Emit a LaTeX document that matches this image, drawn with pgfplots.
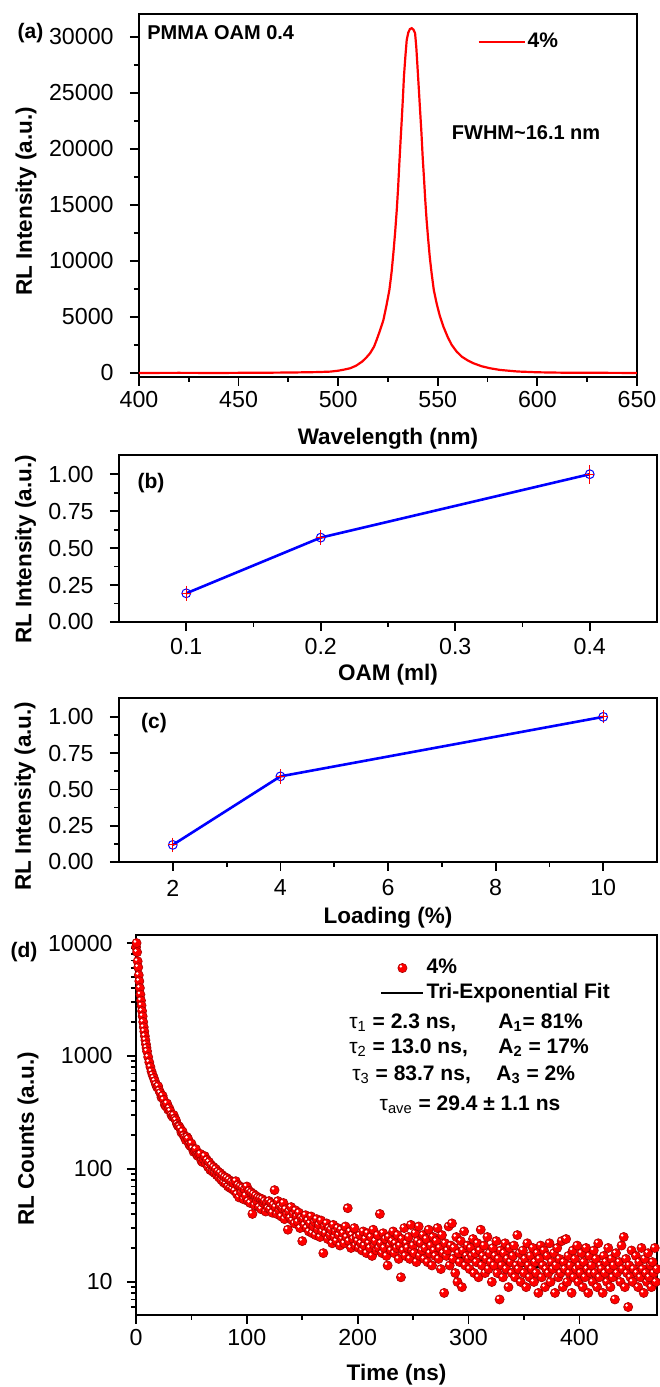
\documentclass[border=0pt]{standalone}
\usepackage{fontspec}
\setmainfont{Liberation Sans}
\usepackage{pgfplots}
\pgfplotsset{compat=1.18}

\newcommand{\myTF}{\fontsize{11.6}{14}\selectfont}
\newcommand{\myLF}{\bfseries\fontsize{11.25}{13}\selectfont}
\newcommand{\myAF}{\bfseries\fontsize{10.5}{12}\selectfont}

\pgfdeclareplotmark{rball}{%
  \pgfpathcircle{\pgfpointorigin}{\pgfplotmarksize}%
  \pgfsetfillcolor{red}\pgfsetstrokecolor{red!65!black}\pgfsetlinewidth{0.3pt}%
  \pgfusepath{fill,stroke}%
  \pgfpathcircle{\pgfpoint{-0.35\pgfplotmarksize}{0.35\pgfplotmarksize}}{0.3\pgfplotmarksize}%
  \pgfsetfillcolor{white}\pgfusepath{fill}}

\pgfplotsset{
 myaxis/.style={
  scale only axis, anchor=south west,
  axis line style={line width=1pt},
  tick pos=left, tick align=outside,
  major tick length=4.5pt, minor tick length=2.5pt,
  every tick/.style={black, line width=0.9pt},
  scaled x ticks=false, scaled y ticks=false,
  /pgf/number format/assume math mode=true,
 },
 balllegend/.style={legend image code/.code={\path[draw=none] (0pt,0pt) -- (21pt,0pt);
    \pgftransformshift{\pgfpoint{10.5pt}{0pt}}\pgfsetplotmarksize{2.3pt}\pgfuseplotmark{rball}}},
 linelegend/.style={legend image code/.code={\draw[##1] (0pt,0pt) -- (21pt,0pt);}},
 linelegendA/.style={legend image code/.code={\draw[##1] (0pt,0pt) -- (23pt,0pt);}},
}

\begin{document}
\begin{tikzpicture}
\path[use as bounding box] (0pt,0pt) rectangle (329.5pt,693.5pt);

% ---------------- (a)
\begin{axis}[myaxis, at={(69.5pt,505pt)}, width=249pt, height=181.5pt,
  xmin=400, xmax=650, ymin=-360, ymax=32050,
  xtick={400,450,500,550,600,650},
  xticklabels={\myTF 400,\myTF 450,\myTF 500,\myTF 550,\myTF 600,\myTF 650},
  ytick={0,5000,10000,15000,20000,25000,30000},
  yticklabels={\myTF 0,\myTF 5000,\myTF 10000,\myTF 15000,\myTF 20000,\myTF 25000,\myTF 30000},
  minor x tick num=1, minor y tick num=1,
  xticklabel style={inner sep=0pt, anchor=center, yshift=-7pt},
  yticklabel style={inner sep=0pt, anchor=east, xshift=-8pt},
  xlabel={Wavelength (nm)}, ylabel={RL Intensity (a.u.)},
  every axis x label/.style={font=\myLF, at={(axis description cs:0.5,0)}, anchor=center, yshift=-31pt},
  every axis y label/.style={font=\myLF, at={(axis description cs:0,0.5)}, xshift=-56.5pt, yshift=-3pt, rotate=90, anchor=center},
  legend style={draw=none, fill=none, inner sep=0pt, at={(axis description cs:0.679,0.923)}, anchor=west,
    font=\myAF, nodes={inner sep=1pt}},
  ]
\addplot[red, line width=1.1pt, linelegendA] coordinates {
(400,0)(420,10)(440,0)(460,20)(470,30)(480,50)(490,80)(496,120)(500,200)(503,300)(506,420)(509,650)
(512,1010)(514,1350)(516,1760)(518,2350)(519.3,2950)(521,3800)(522.7,4730)(524.2,6000)(525.7,7410)
(526.8,9000)(527.7,10690)(528.6,12600)(529.4,14550)(530.1,16600)(530.7,18720)(531.3,20700)(531.9,22590)
(532.5,24600)(533.0,26460)(533.7,28200)(534.4,29730)(535.2,30400)(536,30700)(536.9,30780)(537.8,30650)
(538.6,30330)(539.2,29100)(539.7,27650)(540.4,25600)(541.1,23480)(541.8,21400)(542.4,19310)(543.1,17300)
(543.7,15450)(544.4,13600)(545.2,11880)(546,10300)(546.9,8900)(548,7400)(549.4,6220)(551,5100)
(552.8,4140)(555,3200)(557,2500)(559.5,1900)(562,1460)(565,1120)(567.8,870)(572,600)(576.2,420)
(581.2,270)(590,130)(600,60)(610,30)(620,15)(635,10)(650,0)};
\addlegendentry{4\%}
\end{axis}

% ---------------- (b)
\begin{axis}[myaxis, at={(59.5pt,382.5pt)}, width=269pt, height=83.5pt,
  xmin=0.05, xmax=0.45, ymin=0, ymax=1.13,
  xtick={0.1,0.2,0.3,0.4}, xticklabels={\myTF 0.1,\myTF 0.2,\myTF 0.3,\myTF 0.4},
  ytick={0,0.25,0.5,0.75,1}, yticklabels={\myTF 0.00,\myTF 0.25,\myTF 0.50,\myTF 0.75,\myTF 1.00},
  minor x tick num=1, minor y tick num=1,
  xticklabel style={inner sep=0pt, anchor=center, yshift=-8pt},
  yticklabel style={inner sep=0pt, anchor=east, xshift=-8pt},
  xlabel={OAM (ml)}, ylabel={RL Intensity (a.u.)},
  every axis x label/.style={font=\myLF, at={(axis description cs:0.5,0)}, anchor=center, yshift=-26.5pt},
  every axis y label/.style={font=\myLF, at={(axis description cs:0,0.5)}, xshift=-46.75pt, yshift=-5.5pt, rotate=90, anchor=center},
  ]
\addplot[blue, line width=1.3pt, mark=o, mark size=2.2pt, mark options={blue, line width=0.5pt, solid}]
  coordinates {(0.1,0.194)(0.2,0.571)(0.4,1.0)};
\addplot[only marks, red, mark=+, mark size=2.2pt, mark options={line width=0.6pt},
  error bars/.cd, y dir=both, y explicit, error bar style={red, line width=0.6pt},
  error mark=-, error mark options={red, line width=0.6pt, mark size=2.2pt}]
  coordinates {(0.1,0.194) +- (0,0.02) (0.2,0.571) +- (0,0.02) (0.4,1.0) +- (0,0.034)};
\end{axis}

% ---------------- (c)
\begin{axis}[myaxis, at={(59.5pt,262.5pt)}, width=269pt, height=82pt,
  xmin=1, xmax=11, ymin=0, ymax=1.13,
  xtick={2,4,6,8,10}, xticklabels={\myTF 2,\myTF 4,\myTF 6,\myTF 8,\myTF 10},
  ytick={0,0.25,0.5,0.75,1}, yticklabels={\myTF 0.00,\myTF 0.25,\myTF 0.50,\myTF 0.75,\myTF 1.00},
  minor x tick num=1, minor y tick num=1,
  xticklabel style={inner sep=0pt, anchor=center, yshift=-8.5pt},
  yticklabel style={inner sep=0pt, anchor=east, xshift=-8pt},
  xlabel={Loading (\%)}, ylabel={RL Intensity (a.u.)},
  every axis x label/.style={font=\myLF, at={(axis description cs:0.5,0)}, anchor=center, yshift=-28pt},
  every axis y label/.style={font=\myLF, at={(axis description cs:0,0.5)}, xshift=-47pt, yshift=-8pt, rotate=90, anchor=center},
  ]
\addplot[blue, line width=1.3pt, mark=o, mark size=2.2pt, mark options={blue, line width=0.5pt, solid}]
  coordinates {(2,0.118)(4,0.59)(10,1.0)};
\addplot[only marks, red, mark=+, mark size=2.2pt, mark options={line width=0.6pt},
  error bars/.cd, y dir=both, y explicit, error bar style={red, line width=0.6pt},
  error mark=-, error mark options={red, line width=0.6pt, mark size=2.2pt}]
  coordinates {(2,0.118) +- (0,0.02) (4,0.59) +- (0,0.02) (10,1.0) +- (0,0.015)};
\end{axis}

% ---------------- (d)
\begin{axis}[myaxis, at={(68pt,36pt)}, width=260.5pt, height=190pt,
  ymode=log, xmin=0, xmax=470, ymin=5.1, ymax=11780,
  xtick={0,100,200,300,400}, xticklabels={\myTF 0,\myTF 100,\myTF 200,\myTF 300,\myTF 400},
  ytick={10,100,1000,10000}, yticklabels={\myTF 10,\myTF 100,\myTF 1000,\myTF 10000},
  minor ytick={6,7,8,9,20,30,40,50,60,70,80,90,200,300,400,500,600,700,800,900,2000,3000,4000,5000,6000,7000,8000,9000},
  minor x tick num=1,
  xticklabel style={inner sep=0pt, anchor=center, yshift=-7pt},
  yticklabel style={inner sep=0pt, anchor=east, xshift=-7pt},
  xlabel={Time (ns)}, ylabel={RL Counts (a.u.)},
  every axis x label/.style={font=\myLF, at={(axis description cs:0.5,0)}, anchor=center, yshift=-30pt},
  every axis y label/.style={font=\myLF, at={(axis description cs:0,0.5)}, xshift=-54pt, yshift=-7pt, rotate=90, anchor=center},
  legend style={draw=none, fill=none, inner sep=0pt, at={(axis description cs:0.468,0.947)}, anchor=north west,
    font=\myAF, row sep=0pt, nodes={inner sep=1pt, text height=8pt, text depth=2.5pt}},
  legend cell align=left,
  ]
\addplot[only marks, mark=rball, mark size=2.3pt, balllegend]
  coordinates {
(0,9200)(0.5,10000)(1,8300)(1.5,6900)(2,6100)(2.5,5200)(3,4600)(3.5,4000)(4,3500)(4.5,3100)
(5,2800)(5.5,2500)(6,2250)(6.5,2000)(7,1800)(7.5,1650)(8,1500)(8.5,1380)(9,1270)(9.5,1180)
(10,1100)(11,980)(12,880)(13,800)(14,730)(15,680)(16,640)(17,600)(18,560)(19,530)
(20,540)(21,495)(22,470)(23,430)(24,445)(25,410)(26,370)(27,360)(28,380)(29,335)
(30,345)(31,325)(32,300)(33,290)(34,300)(35,280)(36,270)(37,250)(38,240)(39,238)
(40,228)(41,210)(42,215)(43,198)(44,190)(45,180)(46,192)(47,185)(48,165)(49,160)
(50,168)(51,152)(52,142)(53,146)(54,150)(55,133)(56,130)(57,134)(58,136)(59,118)
(60,115)(61,122)(62,130)(63,112)(64,120)(65,104)(66,115)(67,98)(68,108)(69,95)
(70,104)(71,92)(72,100)(73,88)(74,95)(75,84)(76,92)(77,80)(78,88)(79,76)
(80,85)(81,74)(82,83)(83,70)(84,80)(85,68)(86,77)(87,66)(88,75)(89,64)
(90,78)(91,60)(92,72)(93,56)(94,70)(95,62)(96,68)(97,54)(98,66)(99,58)
(100,70)(101,52)(102,64)(103,50)(104,62)(105,40)(106,60)(107,48)(108,58)(109,52)
(110,56)(111,46)(112,55)(113,44)(114,54)(115,50)(116,52)(117,42)(118,50)(119,45)(120,52)
(121,44)(122,50)(123,41)(124,48)(125,65)(126,46)(127,40)(128,52)(129,43)(130,47)
(131,38)(132,45)(133,50)(134,36)(135,44)(136,40)(137,29)(138,42)(139,37)(140,46)
(141,35)(142,40)(143,33)(144,43)(145,38)(146,34)(147,41)(148,30)(149,37)(150,23)
(151,36)(152,32)(153,39)(154,30)(155,35)(156,28)(157,33)(158,38)(159,27)(160,31)
(161,34)(162,26)(163,36)(164,29)(165,32)(166,25)(167,35)(168,28)(169,18)(170,31)
(171,27)(172,33)(173,24)(174,30)(175,26)(176,29)(177,22)(178,32)(179,25)(180,28)
(181,23)(182,30)(183,26)(184,21)(185,29)(186,24)(187,27)(188,22)(189,31)(190,25)
(191,45)(192,23)(193,28)(194,20)(195,26)(196,24)(197,30)(198,21)(199,25)(200,23)
(201,20)(202,26)(203,22)(204,19)(205,28)(206,21)(207,24)(208,18)(209,27)(210,22)
(211,20)(212,25)(213,17)(214,29)(215,21)(216,23)(217,19)(218,26)(219,20)(220,40)
(221,22)(222,18)(223,27)(224,20)(225,24)(226,17)(227,14)(228,25)(229,21)(230,19)
(231,23)(232,28)(233,18)(234,22)(235,20)(236,26)(237,16)(238,21)(239,11)(240,24)
(241,19)(242,30)(243,17)(244,22)(245,20)(246,25)(247,16)(248,32)(249,19)(250,21)
(251,18)(252,27)(253,15)(254,23)(255,31)(256,17)(257,22)(258,19)(259,26)(260,16)
(261,20)(262,24)(263,15)(264,29)(265,18)(266,21)(267,14)(268,25)(269,19)(270,17)
(271,23)(272,30)(273,16)(274,20)(275,13)(276,26)(277,18)(278,8)(279,22)(280,17)
(281,19)(282,31)(283,14)(284,21)(285,33)(286,16)(287,20)(288,12)(289,25)(290,10)
(291,18)(292,15)(293,23)(294,9)(295,19)(296,28)(297,14)(298,17)(299,21)(300,16)
(301,13)(302,20)(303,17)(304,24)(305,12)(306,18)(307,15)(308,22)(309,11)(310,19)
(311,29)(312,14)(313,17)(314,21)(315,12)(316,16)(317,25)(318,13)(319,18)(320,15)
(321,10)(322,20)(323,14)(324,17)(325,23)(326,12)(327,16)(328,7)(329,19)(330,14)
(331,11)(332,18)(333,22)(334,13)(335,16)(336,9)(337,20)(338,15)(339,12)(340,17)
(341,21)(342,11)(343,14)(344,26)(345,13)(346,18)(347,10)(348,15)(349,19)(350,12)
(351,16)(352,9)(353,22)(354,14)(355,11)(356,17)(357,13)(358,20)(359,10)(360,15)
(361,12)(362,18)(363,8)(364,16)(365,21)(366,11)(367,14)(368,19)(369,9)(370,13)
(371,17)(372,12)(373,22)(374,10)(375,15)(376,13)(377,18)(378,8)(379,14)(380,20)
(381,11)(382,16)(383,12)(384,23)(385,9)(386,15)(387,13)(388,24)(389,10)(390,17)
(391,12)(392,14)(393,8)(394,19)(395,11)(396,16)(397,13)(398,21)(399,10)(400,14)
(401,12)(402,18)(403,9)(404,15)(405,11)(406,20)(407,13)(408,8)(409,17)(410,12)
(411,14)(412,10)(413,19)(414,12)(415,16)(416,9)(417,22)(418,11)(419,14)(420,13)
(421,8)(422,17)(423,12)(424,15)(425,10)(426,20)(427,13)(428,9)(429,16)(430,11)
(431,14)(432,7)(433,18)(434,12)(435,5)(436,15)(437,10)(438,21)(439,13)(440,25)
(441,9)(442,16)(443,12)(444,6)(445,14)(446,11)(447,19)(448,10)(449,13)(450,5)
(451,17)(452,12)(453,9)(454,15)(455,11)(456,20)(457,13)(458,8)(459,16)(460,12)
(461,10)(462,18)(463,11)(464,14)(465,9)(466,15)(467,12)(468,20)(469,10)(470,13)};
\addlegendentry{4\%}
\addplot[black, line width=1.2pt, linelegend] coordinates {
(0,7500)(0.5,6500)(1,5700)(1.5,5000)(2,4400)(3,3450)(4,2750)(5,2250)(6,1850)(7,1560)(8,1340)(9,1170)
(10,1040)(12,860)(14,740)(16,650)(18,575)(20,515)(23,445)(26,390)(30,335)(35,280)(40,236)(45,192)
(50,160)(55,140)(60,125)(70,104)(80,88)(90,76)(100,66)(110,58)(120,52)(130,46)(140,42)(150,38.5)
(160,35)(170,31.5)(180,28.5)(190,26)(200,23.8)(220,21.5)(240,20)(260,18.6)(280,17.2)(300,16)
(320,15)(340,14.2)(360,13.6)(380,13.1)(400,12.7)(420,12.3)(440,12)(470,11.7)};
\addlegendentry{Tri-Exponential Fit}
\end{axis}

% ---------------- annotations
\node[font=\myAF, inner sep=0pt] at (15.25pt,677pt) {(a)};
\node[font=\bfseries\fontsize{10}{12}\selectfont, inner sep=0pt, anchor=west] at (73.5pt,677pt) {PMMA OAM 0.4};
\node[font=\bfseries\fontsize{10}{12}\selectfont, inner sep=0pt, anchor=west] at (225.75pt,627pt) {FWHM\textasciitilde 16.1 nm};
\node[font=\myAF, inner sep=0pt] at (75.5pt,452pt) {(b)};
\node[font=\myAF, inner sep=0pt] at (77pt,332pt) {(c)};
\node[font=\myAF, inner sep=0pt] at (12pt,217.5pt) {(d)};

\node[font=\myAF, inner sep=0pt, anchor=west] at (174.5pt,182pt) {{\mdseries τ\textsubscript{1}} = 2.3 ns,};
\node[font=\myAF, inner sep=0pt, anchor=west] at (249pt,182pt) {A\textsubscript{1}= 81\%};
\node[font=\myAF, inner sep=0pt, anchor=west] at (174.5pt,169.5pt) {{\mdseries τ\textsubscript{2}} = 13.0 ns,};
\node[font=\myAF, inner sep=0pt, anchor=west] at (249pt,169.5pt) {A\textsubscript{2} = 17\%};
\node[font=\myAF, inner sep=0pt, anchor=west] at (176pt,156pt) {{\mdseries τ\textsubscript{3}} = 83.7 ns,};
\node[font=\myAF, inner sep=0pt, anchor=west] at (248pt,156pt) {A\textsubscript{3} = 2\%};
\node[font=\myAF, inner sep=0pt] at (235pt,141pt) {{\mdseries τ\textsubscript{ave}} = 29.4 ± 1.1 ns};
\end{tikzpicture}
\end{document}
